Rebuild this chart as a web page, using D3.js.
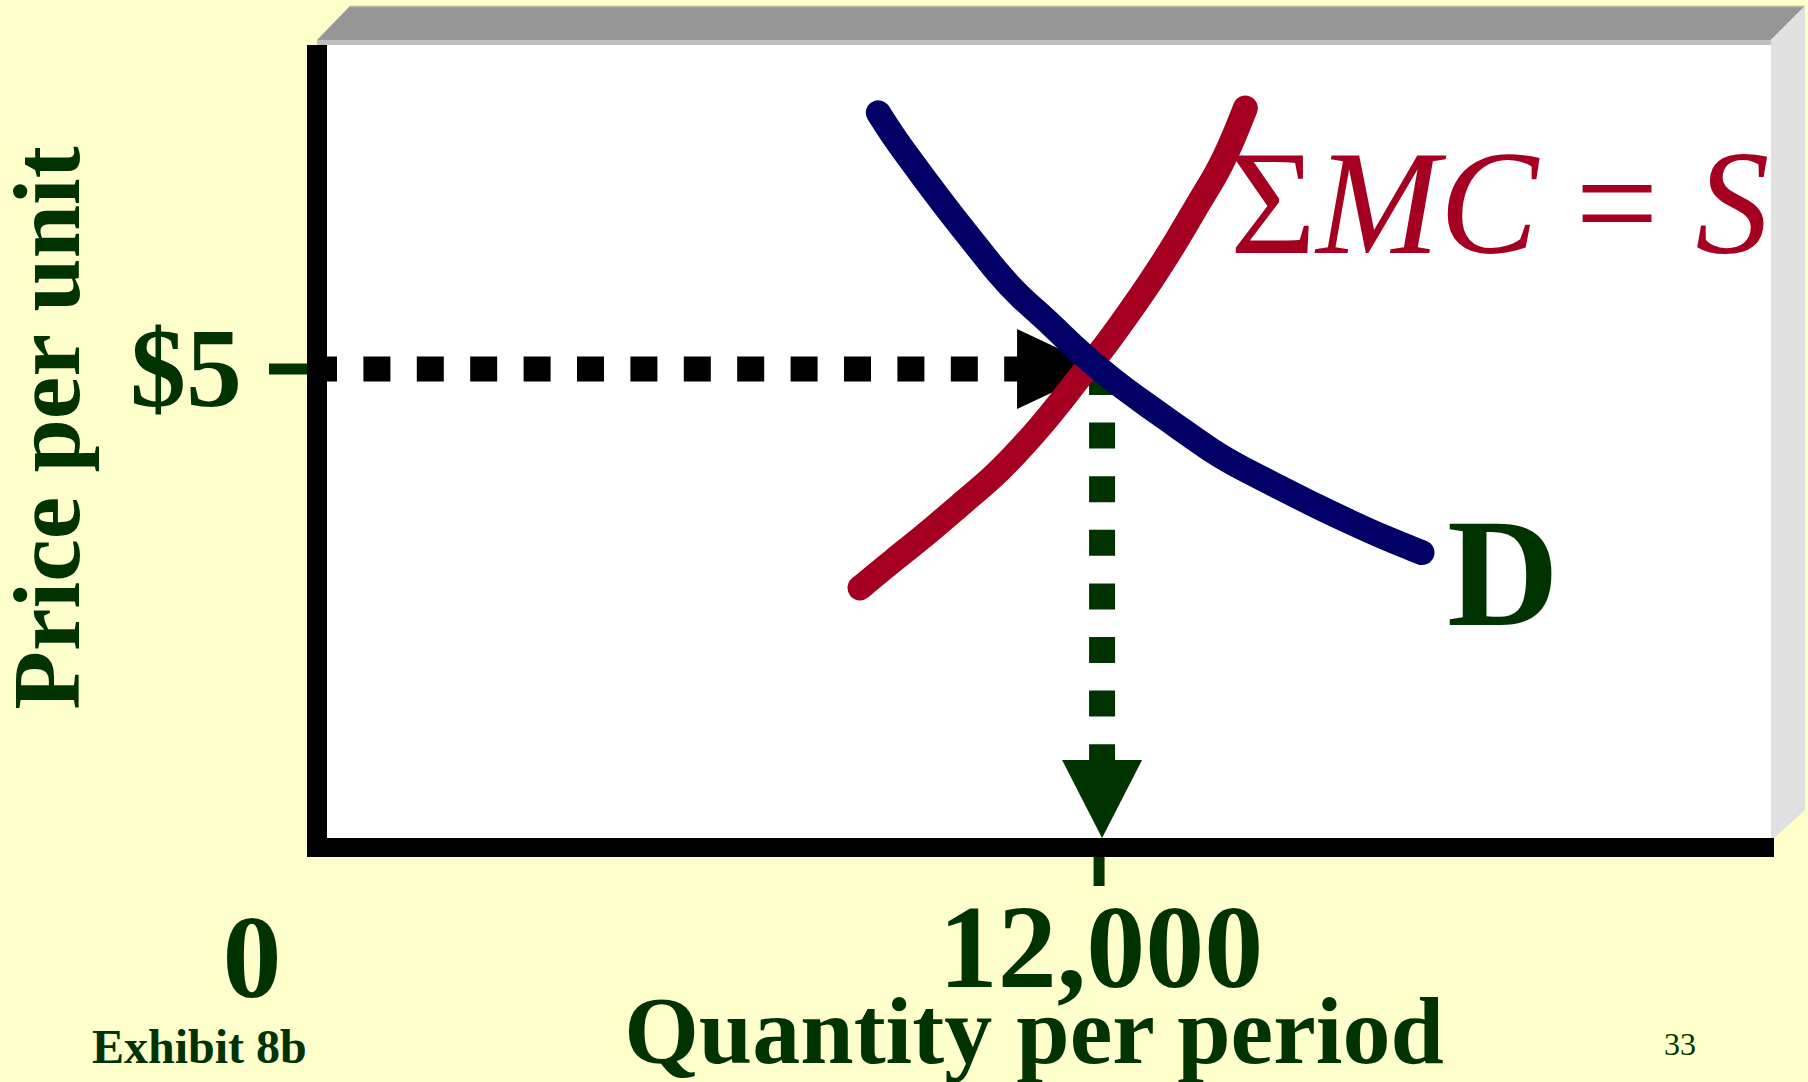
<!DOCTYPE html>
<html>
<head>
<meta charset="utf-8">
<script src="https://cdn.jsdelivr.net/npm/d3@7"></script>
<style>
  html, body { margin: 0; padding: 0; background: #FFFFCC; overflow: hidden; }
  svg { display: block; }
  text { font-family: "Liberation Serif", "Times New Roman", Times, serif; }
</style>
</head>
<body>
<svg id="chart" width="1808" height="1082"></svg>
<script>
// ---- data -------------------------------------------------------------
// Market supply (sum of marginal cost curves): quantity, price
const supplyQty   = [8300, 8810, 9330, 9830, 10290, 10640, 11050, 11360, 11660, 11970, 12350, 12730, 13150, 13500, 13760, 14000, 14190];
const supplyPrice = [2.71, 3.00, 3.28, 3.58, 3.84, 4.08, 4.39, 4.65, 4.92, 5.17, 5.53, 5.90, 6.35, 6.77, 7.05, 7.40, 7.73];

// Market demand: quantity, price
const demandQty   = [8580, 8840, 9220, 9680, 10090, 10410, 10750, 11160, 11660, 12170, 12690, 13190, 13700, 14110, 14720, 15290, 15790, 16300, 16890];
const demandPrice = [7.68, 7.40, 7.05, 6.63, 6.28, 6.00, 5.75, 5.51, 5.17, 4.88, 4.62, 4.38, 4.13, 3.97, 3.76, 3.56, 3.40, 3.24, 3.08];

// Equilibrium
const eqPrice = 5;
const eqQty = 12000;

// Tick labels
const xTickValues = [0, 12000];
const xTickLabels = ["0", "12,000"];
const yTickValues = [5];
const yTickLabels = ["$5"];

// Titles
const xTitle = "Quantity per period";
const yTitle = "Price per unit";
const exhibitLabel = "Exhibit 8b";
const pageLabel = "33";

// ---- setup ------------------------------------------------------------
const GREEN = "#003300", RED = "#A50021", NAVY = "#000066";
const svg = d3.select("#chart");

const x = d3.scaleLinear().domain([0, 22240]).range([317, 1772]);
const y = d3.scaleLinear().domain([0, 8.4]).range([847, 44]);

const plotLeft = x(0), plotRight = x.range()[1], plotTop = 45, plotBase = y(0);

// ---- 3D frame ---------------------------------------------------------
svg.append("polygon")
  .attr("points", [[plotLeft, 40], [plotLeft + 33, 6], [1805, 6], [plotRight - 1, 40]].join(" "))
  .attr("fill", "#969696");
svg.append("line").attr("x1", plotLeft + 33).attr("x2", 1805).attr("y1", 6.5).attr("y2", 6.5)
  .attr("stroke", "#b8b894").attr("stroke-width", 1.5);
svg.append("rect").attr("x", plotLeft).attr("y", 40).attr("width", plotRight - plotLeft).attr("height", 5)
  .attr("fill", "#C0C0C0");
svg.append("polygon")
  .attr("points", [[plotRight - 1, 40], [1805, 6], [1805, 810], [plotRight - 1, 841]].join(" "))
  .attr("fill", "#E0E0E0");
svg.append("rect").attr("x", plotLeft).attr("y", plotTop).attr("width", plotRight - 1 - plotLeft).attr("height", plotBase - plotTop)
  .attr("fill", "#FFFFFF");

// ---- axes -------------------------------------------------------------
const axisW = 20;
svg.append("rect").attr("x", plotLeft - 10).attr("y", plotTop).attr("width", axisW).attr("height", plotBase + 10 - plotTop)
  .attr("fill", "#000");
svg.append("rect").attr("x", plotLeft - 6).attr("y", plotBase - 9).attr("width", plotRight + 2 - (plotLeft - 6)).attr("height", 19)
  .attr("fill", "#000");

// tick marks
svg.selectAll(".ytick").data(yTickValues).enter().append("line")
  .attr("x1", plotLeft - 48).attr("x2", plotLeft - 10)
  .attr("y1", d => y(d)).attr("y2", d => y(d))
  .attr("stroke", GREEN).attr("stroke-width", 11);
svg.selectAll(".xtick").data(xTickValues.filter(v => v > 0)).enter().append("line")
  .attr("x1", d => x(d) - 3).attr("x2", d => x(d) - 3)
  .attr("y1", plotBase + 10).attr("y2", plotBase + 39)
  .attr("stroke", GREEN).attr("stroke-width", 11);

// ---- guide lines to equilibrium --------------------------------------
const ex = x(eqQty), ey = y(eqPrice);

// horizontal: price level to the crossing
const hArrowLen = 85, hArrowHalf = 40;
svg.append("line")
  .attr("x1", plotLeft - 7).attr("x2", ex - hArrowLen + 2)
  .attr("y1", ey).attr("y2", ey)
  .attr("stroke", "#000").attr("stroke-width", 25)
  .attr("stroke-dasharray", "27 26.4");
svg.append("polygon")
  .attr("points", [[ex - hArrowLen, ey - hArrowHalf], [ex, ey], [ex - hArrowLen, ey + hArrowHalf]].join(" "))
  .attr("fill", "#000");

// vertical: crossing down to the quantity axis
const vTip = plotBase - 9, vArrowLen = 78, vArrowHalf = 40;
svg.append("line")
  .attr("x1", ex).attr("x2", ex)
  .attr("y1", ey).attr("y2", vTip - vArrowLen + 2)
  .attr("stroke", GREEN).attr("stroke-width", 26)
  .attr("stroke-dasharray", "26 27.6");
svg.append("polygon")
  .attr("points", [[ex - vArrowHalf, vTip - vArrowLen], [ex, vTip], [ex + vArrowHalf, vTip - vArrowLen]].join(" "))
  .attr("fill", GREEN);

// ---- curves -----------------------------------------------------------
const line = d3.line().x(d => x(d[0])).y(d => y(d[1])).curve(d3.curveBasis);

svg.append("path")
  .attr("d", line(d3.zip(supplyQty, supplyPrice)))
  .attr("fill", "none").attr("stroke", RED).attr("stroke-width", 25)
  .attr("stroke-linecap", "round").attr("stroke-linejoin", "round");

svg.append("path")
  .attr("d", line(d3.zip(demandQty, demandPrice)))
  .attr("fill", "none").attr("stroke", NAVY).attr("stroke-width", 25)
  .attr("stroke-linecap", "round").attr("stroke-linejoin", "round");

// ---- curve labels -----------------------------------------------------
const sLabel = svg.append("text").attr("x", 1230).attr("y", 253)
  .attr("font-size", 148).attr("fill", RED);
sLabel.append("tspan").text("Σ");
sLabel.append("tspan").attr("font-style", "italic").text("MC");
sLabel.append("tspan").text(" = ");
sLabel.append("tspan").attr("font-style", "italic").text("S");

svg.append("text").attr("x", 1447).attr("y", 625)
  .attr("font-size", 155).attr("font-weight", "bold").attr("fill", GREEN).text("D");

// ---- tick labels ------------------------------------------------------
svg.selectAll(".ylabel").data(yTickValues).enter().append("text")
  .attr("x", plotLeft - 75).attr("y", d => y(d) + 37)
  .attr("text-anchor", "end").attr("font-size", 112).attr("font-weight", "bold")
  .attr("fill", GREEN).text((d, i) => yTickLabels[i]);

svg.selectAll(".xlabel").data(xTickValues).enter().append("text")
  .attr("x", d => d === 0 ? x(d) - 65 : x(d) - 1).attr("y", d => d === 0 ? 997 : 987)
  .attr("text-anchor", "middle").attr("font-size", 118).attr("font-weight", "bold")
  .attr("fill", GREEN).text((d, i) => xTickLabels[i]);

// ---- axis titles & footer --------------------------------------------
svg.append("text").attr("transform", "translate(79,428) rotate(-90)")
  .attr("text-anchor", "middle").attr("font-size", 96).attr("font-weight", "bold")
  .attr("fill", GREEN).text(yTitle);

svg.append("text").attr("x", 1034).attr("y", 1063)
  .attr("text-anchor", "middle").attr("font-size", 96).attr("font-weight", "bold")
  .attr("fill", GREEN).text(xTitle);

svg.append("text").attr("x", 92).attr("y", 1063)
  .attr("font-size", 48).attr("font-weight", "bold").attr("fill", GREEN).text(exhibitLabel);

svg.append("text").attr("x", 1664).attr("y", 1055)
  .attr("font-size", 32).attr("fill", GREEN).text(pageLabel);
</script>
</body>
</html>
